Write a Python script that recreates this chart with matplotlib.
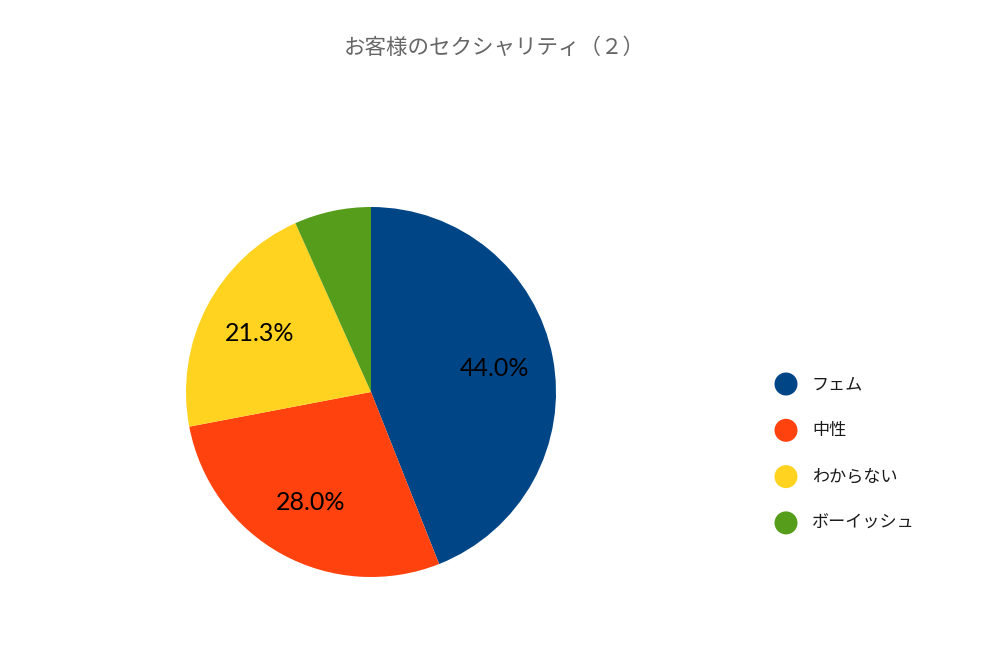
import matplotlib
matplotlib.use("Agg")
import matplotlib.pyplot as plt

categories = ["フェム", "中性", "わからない", "ボーイッシュ"]
values = [44.0, 28.0, 21.3, 6.7]
colors = ["#004586", "#FF420E", "#FFD320", "#579D1C"]
title = "お客様のセクシャリティ（２）"

plt.rcParams['font.family'] = ['Noto Sans CJK JP', 'DejaVu Sans']

W, H = 988, 668
fig = plt.figure(figsize=(W / 100, H / 100), dpi=100)

cx, cy, r = 371, 392, 185
ax = fig.add_axes([(cx - r) / W, (H - cy - r) / H, 2 * r / W, 2 * r / H])

def fmt(p):
    return f"{p:.1f}%" if p > 10 else ""

wedges, texts, autotexts = ax.pie(values, colors=colors, startangle=90, counterclock=False,
                                  autopct=fmt, pctdistance=0.68,
                                  wedgeprops=dict(linewidth=0),
                                  textprops=dict(fontsize=18, family=['Lato', 'DejaVu Sans'], color='black'))
ax.set_xlim(-1, 1)
ax.set_ylim(-1, 1)
ax.set_aspect('equal')

fig.text(0.5, (H - 48) / H, title, ha='center', va='center', fontsize=15.5, color='#666666')

lax = fig.add_axes([0, 0, 1, 1])
lax.set_xlim(0, W)
lax.set_ylim(H, 0)
lax.axis('off')
for i, (lab, c) in enumerate(zip(categories, colors)):
    y = 384 + 46.3 * i
    lax.scatter([786], [y], s=(23 * 0.72) ** 2, color=c, edgecolors='none')
    lax.text(812, y, lab, va='center', ha='left', fontsize=12.3, color='#1a1a1a')

fig.savefig("out.png", dpi=100)
